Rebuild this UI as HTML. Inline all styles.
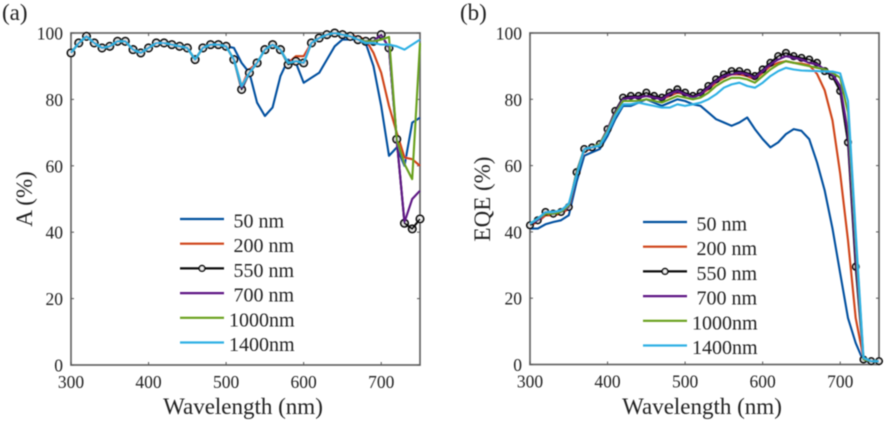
<!DOCTYPE html>
<html><head><meta charset="utf-8">
<style>
html,body{margin:0;padding:0;background:#fff;width:886px;height:423px;overflow:hidden}
svg{display:block;font-family:"Liberation Serif",serif;fill:#222}
</style></head>
<body>
<svg id="fig" width="886" height="423" viewBox="0 0 886 423">
<defs><filter id="soft" x="-5%" y="-5%" width="110%" height="110%"><feGaussianBlur stdDeviation="0.4"/></filter></defs>
<g id="root" filter="url(#soft)"></g>
</svg>
<script>
const wavelengths = [300,310,320,330,340,350,360,370,380,390,400,410,420,430,440,450,460,470,480,490,500,510,520,530,540,550,560,570,580,590,600,610,620,630,640,650,660,670,680,690,700,710,720,730,740,750];
const xTicks = [300,400,500,600,700];
const yTicks = [0,20,40,60,80,100];
const seriesLabels = ['50 nm','200 nm','550 nm','700 nm','1000nm','1400nm'];
const seriesKeys = ['50','200','550','700','1000','1400'];
const seriesColors = ['#064f9f','#cf4213','#0a0a0a','#5e1585','#68a01c','#2eb0e4'];

const absorb50 = [94,97,99,97,95.5,96,97.5,97.5,95,94,95.5,97,97,96.5,96,95.5,92,95.5,96.5,96.5,96,95.5,91,88,79,75,77.6,87,92,91,85,86.5,88,92,96,98,98,98,97,90,78,63,65.5,60,73,74.5];
const absorb200 = [94,97,99,97,95.5,96,97.5,97.5,95,94,95.5,97,97,96.5,96,95.5,92,95.5,96.5,96.5,96,92,84,89,91,95,96.5,95,91,93,93,97,98.5,99.5,100,99.5,99.3,98.8,98,94,88,78,70,62.5,62,60];
const absorb550 = [94,97,99,97,95.5,96,97.5,97.5,95,94,95.5,97,97,96.5,96,95.5,92,95.5,96.5,96.5,96,92,83,88,91,95,96.5,95,90.5,91.5,91,97,98.5,99.5,100,99.5,99,98,97.5,97.5,99.5,95.5,68,42.7,41,44];
const absorb700 = [94,97,99,97,95.5,96,97.5,97.5,95,94,95.5,97,97,96.5,96,95.5,92,95.5,96.5,96.5,96,92,83.5,88,91,95,96.5,95,91,91.5,91,97,98.5,99.5,100,99.5,99,98,97.5,97.5,99.5,95.5,68,43,50,52.5];
const absorb1000 = [94,97,99,97,95.5,96,97.5,97.5,95,94,95.5,97,97,96.5,96,95.5,92,95.5,96.5,96.5,96,92,84,88,91,95,96.5,95,91,91.5,91,97,98.5,99.5,100,99.5,99,98,97.5,97.5,98,98.8,68,60.5,56,97];
const absorb1400 = [94,97,99,97,95.5,96,97.5,97.5,95,94,95.5,97,97,96.5,96,95.5,92,95.5,96.5,96.5,96,92,84,88,91,95,96.5,95,91,91.5,91,97,98.5,99.5,100,99.5,99,98,97,97,96.5,96.5,96,95,96.5,98];

const eqe50 = [41,41,42.3,43,43.5,45,55,63,64,65,69,74,78,78,79,80,79,78,79,80,79.5,78.5,78,76,74,73,72,73,74.5,71,68,65.5,67,69.5,71,70.5,68,61,52.5,41,27.5,14,6.5,1,0.8,0.8];
const eqe200 = [42,43,45,45,45.5,47,57.5,64.5,65,66.5,71,76,80,80.5,80.5,81,80.5,80,81,82,81.5,80.5,81.5,83,85,86.5,87.5,87.5,87,86,88,90,91,91.5,91,90.8,90.3,87.7,82.7,73.6,57.6,37.5,14,2,1,1];
const eqe550 = [42,43.5,46,45.5,46,47.5,58,65,65.5,66.5,71,76.5,80.5,81,81,82,81,80.5,82,83,82,81,82,84,86,87.5,88.5,88.5,88,87,89,91,93,94,93,92.5,92,91,88.5,87,82.5,67,29.5,1.5,1,1];
const eqe700 = [42.5,43.5,45.5,45.5,46,47.5,57.5,65,65.5,66.5,71,76,80,80.5,80.5,81,80.5,80,81.5,82.5,81.5,80.5,81.5,83.5,85.5,87,87.5,88,87.5,86.5,88.5,90.5,92,93,92.5,92,91,90.5,89,87.5,84,70,33,1.5,1,1];
const eqe1000 = [42.5,44,45.5,45.5,46,48,57.5,65,65.5,66.5,70.5,75.5,79.5,79.5,79.5,80,79.5,79,80,81,80.5,80,80.5,82,84,85.5,86.5,86.5,86,85,87,89,90.5,91.5,91,90.5,90,89.5,89,88,86.5,76,38,1.5,1,1];
const eqe1400 = [42.5,44,46,46,46.5,48.5,57,65,65.5,66,70,75,78.5,78.5,79,78.5,78,77.5,77.5,78.5,78,78.5,79,80,81.5,83.5,84.5,85,84,83.5,85,87,88.5,89.5,89,88.7,88.6,88.5,88.4,88.4,87.8,79.5,40,2,1,1];

const absorbSeries = [absorb50,absorb200,absorb550,absorb700,absorb1000,absorb1400];
const eqeSeries = [eqe50,eqe200,eqe550,eqe700,eqe1000,eqe1400];

const NS = 'http://www.w3.org/2000/svg';
const root = document.getElementById('root');
function mk(tag, parent, attrs) {
  const el = document.createElementNS(NS, tag);
  for (const k in attrs) el.setAttribute(k, attrs[k]);
  parent.appendChild(el);
  return el;
}
function drawPanel(cfg, allSeries) {
  const x = v => cfg.left + (v - 300) * (cfg.right - cfg.left) / 450;
  const y = v => cfg.bottom - v * (cfg.bottom - cfg.top) / 100;
  const g = mk('g', root, {});
  
  

  const box = mk('rect', g, {x:cfg.left, y:cfg.top, width:cfg.right-cfg.left, height:cfg.bottom-cfg.top, fill:'none', stroke:'#666', 'stroke-width':1.7});
  
  

  xTicks.forEach(t => {
    mk('line', g, {x1:x(t), x2:x(t), y1:cfg.bottom, y2:cfg.bottom-3, stroke:'#555', 'stroke-width':1});
    mk('line', g, {x1:x(t), x2:x(t), y1:cfg.top, y2:cfg.top+3, stroke:'#555', 'stroke-width':1});
    const lab = mk('text', g, {x:x(t), y:cfg.bottom+23, 'text-anchor':'middle', 'font-size':17.5});
    lab.textContent = t;
    
    
  });
  yTicks.forEach(t => {
    mk('line', g, {x1:cfg.left, x2:cfg.left+3, y1:y(t), y2:y(t), stroke:'#555', 'stroke-width':1});
    mk('line', g, {x1:cfg.right, x2:cfg.right-3, y1:y(t), y2:y(t), stroke:'#555', 'stroke-width':1});
    const lab = mk('text', g, {x:cfg.left-8, y:y(t)+6.5, 'text-anchor':'end', 'font-size':17.5});
    lab.textContent = t;
    
    
  });

  allSeries.forEach((vals, i) => {
    const s = mk('g', g, {});
    
    
    const pts = vals.map((v, j) => x(wavelengths[j]).toFixed(1) + ',' + y(v).toFixed(1)).join(' ');
    if (i === 2) {
      vals.forEach((v, j) => {
        mk('circle', s, {cx:x(wavelengths[j]), cy:y(v), r:cfg.markerR, fill:'#f4f4f4', stroke:'#0a0a0a', 'stroke-width':1.9});
      });
    }
    mk('polyline', s, {points:pts, fill:'none', stroke:seriesColors[i], 'stroke-width':2.1, 'stroke-linejoin':'round'});
  });

  const xt = mk('text', g, {x:cfg.xTitleX, y:414, 'text-anchor':'middle', 'font-size':23});
  xt.textContent = 'Wavelength (nm)';
  
  

  const yt = mk('text', g, {transform:'translate(' + cfg.yTitleX + ',199) rotate(-90)', 'text-anchor':'middle', 'font-size':23});
  yt.textContent = cfg.yTitle;
  
  

  const pl = mk('text', g, {x:cfg.panelX, y:20, 'font-size':23});
  pl.textContent = cfg.panel;
  
  

  const lg = mk('g', g, {});
  
  
  seriesLabels.forEach((label, i) => {
    const ly = cfg.legendY + i * 24.7;
    const e = mk('g', lg, {});
    
    
    mk('line', e, {x1:cfg.legendX, x2:cfg.legendX+44, y1:ly, y2:ly, stroke:seriesColors[i], 'stroke-width':2.2});
    if (i === 2) mk('circle', e, {cx:cfg.legendX+22, cy:ly, r:2.8, fill:'#f4f4f4', stroke:'#0a0a0a', 'stroke-width':1.7});
    const textOffset = label.indexOf(' ') < 0 ? 49 : 53.5;
    const t = mk('text', e, {x:cfg.legendX+textOffset, y:ly+8.5, 'font-size':20});
    t.textContent = label;
  });
}
drawPanel({name:'absorption', left:71, right:420, top:33, bottom:365, yTitle:'A (%)', yTitleX:32, xTitleX:243, panel:'(a)', panelX:2, legendX:180, legendY:219, markerR:3.6}, absorbSeries);
drawPanel({name:'eqe', left:530, right:879, top:33, bottom:364.5, yTitle:'EQE (%)', yTitleX:490, xTitleX:702, panel:'(b)', panelX:460, legendX:643, legendY:222, markerR:3.1}, eqeSeries);
</script>
</body></html>
